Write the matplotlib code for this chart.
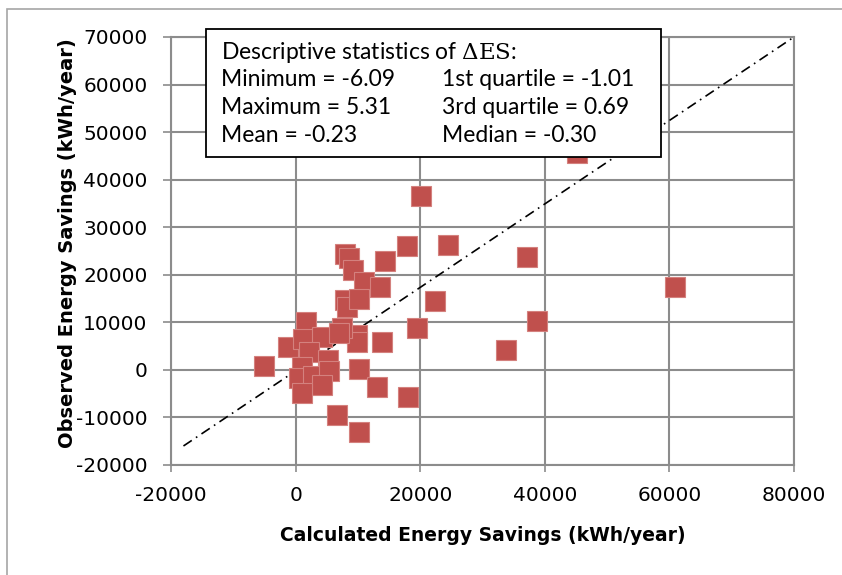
import matplotlib
matplotlib.use("Agg")
import matplotlib.pyplot as plt
from matplotlib.patches import Rectangle

# ---- data (kWh/year) ----
calc_x = [-5000, -1300, 1600, 1200, 4200, 2200, 5200, 1100, 600, 2800,
          5300, 4300, 1100, 6700, 10200, 10100, 13000, 18100, 9800, 9800,
          7400, 6900, 7900, 8500, 9200, 10900, 13600, 14300, 17900, 7900,
          8300, 10200, 13900, 19500, 22400, 20200, 24400, 37100, 60900, 38700,
          33700, 45100]
obs_y = [800, 4900, 10000, 6600, 7000, 3800, 2100, 600, -1700, -1200,
         -200, -3200, -4900, -9500, -13000, 200, -3600, -5700, 7400, 5900,
         8800, 7800, 24300, 23500, 20900, 18500, 17400, 22900, 26100, 14600,
         13300, 15000, 5900, 8800, 14400, 36500, 26300, 23800, 17400, 10300,
         4100, 45600]

fit_x = [-18000, 80000]
fit_y = [-16000, 70000]

x_ticks = [-20000, 0, 20000, 40000, 60000, 80000]
y_ticks = [-20000, -10000, 0, 10000, 20000, 30000, 40000, 50000, 60000, 70000]

stats_title = "Descriptive statistics of $\\Delta\\mathrm{ES}$:"
stats_left = ["Minimum = -6.09", "Maximum = 5.31", "Mean = -0.23"]
stats_right = ["1st quartile = -1.01", "3rd quartile = 0.69", "Median = -0.30"]

W, H = 842, 575
plt.rcParams['mathtext.fontset'] = 'dejavuserif'
fig = plt.figure(figsize=(W / 100, H / 100), dpi=100)
fig.patch.set_facecolor("white")

# outer frame
fig.patches.append(Rectangle((7 / W, -0.05), 1.2, 1 - 9 / H + 0.05,
                             transform=fig.transFigure, fill=False,
                             edgecolor="#a6a6a6", linewidth=1.2))

ax = fig.add_axes([171 / W, 1 - 465 / H, (794 - 171) / W, (465 - 37) / H])
grid_col = "#8c8c8c"
ax.set_xlim(-20000, 80000)
ax.set_ylim(-20000, 70000)
ax.set_xticks(x_ticks)
ax.set_yticks(y_ticks)
ax.set_xticklabels([str(v) for v in x_ticks])
ax.set_yticklabels([str(v) for v in y_ticks])
ax.grid(True, color=grid_col, linewidth=1.5, zorder=0)
ax.set_axisbelow(True)
for s in ax.spines.values():
    s.set_color(grid_col)
    s.set_linewidth(1.5)
ax.tick_params(axis="y", direction="inout", length=12, width=1.2,
               color=grid_col, pad=11, labelsize=14.5)
ax.tick_params(axis="x", direction="out", length=5, width=1.2,
               color=grid_col, pad=10, labelsize=14.5)

ax.plot(fit_x, fit_y, color="black", linewidth=1.2,
        linestyle=(0, (6, 3, 1, 3)), zorder=2)
ax.plot(calc_x, obs_y, linestyle="none", marker="s", markersize=14,
        markerfacecolor="#C0504D", markeredgecolor="#D4817E",
        markeredgewidth=0.8, zorder=3, clip_on=False)

ax.set_xlabel("Calculated Energy Savings (kWh/year)", fontsize=13.5,
              fontweight="bold")
ax.set_ylabel("Observed Energy Savings (kWh/year)", fontsize=14,
              fontweight="bold")
ax.xaxis.set_label_coords(0.5, (465 - 526) / 428)
ax.yaxis.set_label_coords((77 - 171) / 623, (465 - 243) / 428)

# statistics box
bx0, by0, bx1, by1 = 206, 29, 661, 157
fig.patches.append(Rectangle((bx0 / W, 1 - by1 / H), (bx1 - bx0) / W,
                             (by1 - by0) / H, transform=fig.transFigure,
                             facecolor="white", edgecolor="black",
                             linewidth=1.3, zorder=10))
fs = 16.5
fam = "Lato"
fig.text(221 / W, 1 - 59 / H, stats_title, fontsize=fs, family=fam,
         va="baseline", ha="left", zorder=11)
for i, (l, r) in enumerate(zip(stats_left, stats_right)):
    yb = [86, 114, 142][i]
    fig.text(221 / W, 1 - yb / H, l, fontsize=fs, family=fam,
             va="baseline", ha="left", zorder=11)
    fig.text(442 / W, 1 - yb / H, r, fontsize=fs, family=fam,
             va="baseline", ha="left", zorder=11)

fig.savefig("out.png", dpi=100)
